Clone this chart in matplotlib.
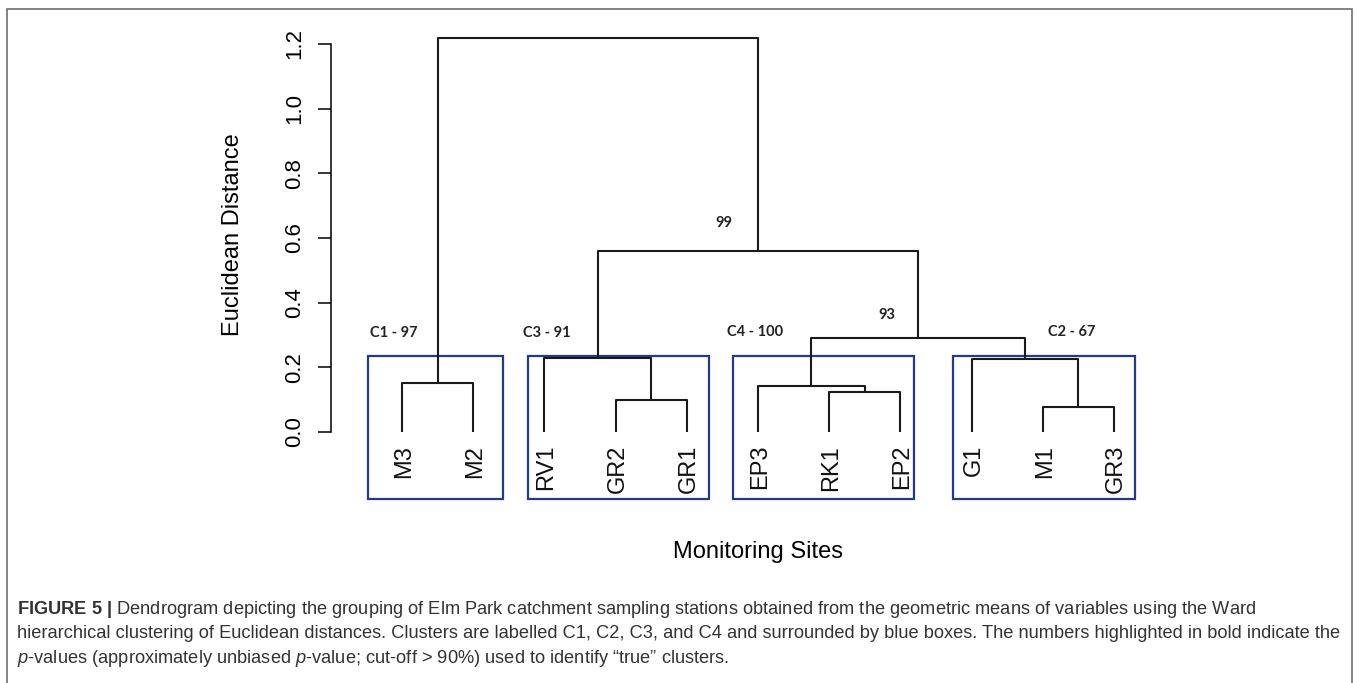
import matplotlib
matplotlib.use("Agg")
import matplotlib.pyplot as plt
import matplotlib.patches as mpatches
from matplotlib import font_manager

# Leaves in plotting order and the merge table (R style: -k = leaf k, +k = merge k).
leaves = ["M3", "M2", "RV1", "GR2", "GR1", "EP3", "RK1", "EP2", "G1", "M1", "GR3"]
merge_left = [-10, -4, -7, -6, -1, -3, -9, 4, 6, 5]
merge_right = [-11, -5, -8, 3, -2, 2, 1, 7, 8, 9]
merge_height = [0.077, 0.099, 0.124, 0.142, 0.150, 0.228, 0.227, 0.291, 0.560, 1.218]

y_ticks = [0.0, 0.2, 0.4, 0.6, 0.8, 1.0, 1.2]
y_tick_labels = ["0.0", "0.2", "0.4", "0.6", "0.8", "1.0", "1.2"]

cluster_labels = ["C1 - 97", "C3 - 91", "C4 - 100", "C2 - 67", "99", "93"]
cluster_members = [["M3", "M2"], ["RV1", "GR2", "GR1"], ["EP3", "RK1", "EP2"], ["G1", "M1", "GR3"]]

caption_lines = [
    r"$\mathbf{FIGURE\ 5\ |}$ Dendrogram depicting the grouping of Elm Park catchment sampling stations obtained from the geometric means of variables using the Ward",
    "hierarchical clustering of Euclidean distances. Clusters are labelled C1, C2, C3, and C4 and surrounded by blue boxes. The numbers highlighted in bold indicate the",
    r"$\mathit{p}$-values (approximately unbiased $\mathit{p}$-value; cut-off > 90%) used to identify " + "\u201ctrue\u201d clusters.",
]

# Fonts
names = {f.name for f in font_manager.fontManager.ttflist}
narrow = "Liberation Sans Narrow" if "Liberation Sans Narrow" in names else "Liberation Sans"
plt.rcParams["font.family"] = ["Liberation Sans", "DejaVu Sans"]
plt.rcParams["mathtext.fontset"] = "custom"
plt.rcParams["mathtext.rm"] = narrow
plt.rcParams["mathtext.it"] = narrow + ":italic"
plt.rcParams["mathtext.bf"] = "Liberation Sans:bold"

W, H = 1357, 683
fig = plt.figure(figsize=(W / 100, H / 100), dpi=100)

# Axes laid out in pixel terms: leaves at 402 + 71.2*i, y=0 at 432, 323.5 px per unit.
ax_left, ax_right, ax_top, ax_bottom = 331, 1200, 30, 520
ax = fig.add_axes([ax_left / W, 1 - ax_bottom / H, (ax_right - ax_left) / W, (ax_bottom - ax_top) / H])
ax.set_xlim((ax_left - 402) / 71.2, (ax_right - 402) / 71.2)
ax.set_ylim((432 - ax_bottom) / 323.5, (432 - ax_top) / 323.5)

# Dendrogram
line_kw = dict(color="#1a1a1a", lw=1.5, solid_capstyle="butt", clip_on=False)
node_x = []
for i in range(len(merge_height)):
    xs, hs = [], []
    for c in (merge_left[i], merge_right[i]):
        if c < 0:
            xs.append(-c - 1)
            hs.append(0.0)
        else:
            xs.append(node_x[c - 1])
            hs.append(merge_height[c - 1])
    h = merge_height[i]
    ax.plot([xs[0], xs[0], xs[1], xs[1]], [hs[0], h, h, hs[1]], **line_kw)
    node_x.append(sum(xs) / 2)

# Leaf labels
for i, name in enumerate(leaves):
    ax.text(i + 0.03, -0.04, name, rotation=90, ha="center", va="top", fontsize=17, color="#111111")

# Blue cluster boxes
box_pad = [(0.478, 0.419), (0.23, 0.31), (0.35, 0.19), (0.26, 0.29)]
for members, (pl, pr) in zip(cluster_members, box_pad):
    idx = [leaves.index(m) for m in members]
    x0, x1 = min(idx) - pl, max(idx) + pr
    ax.add_patch(mpatches.Rectangle((x0, -0.208), x1 - x0, 0.443, fill=False,
                                    edgecolor="#213a8a", lw=1.6, clip_on=False))

# Bold p-value labels
label_pos = [(-0.449, 0.306), (1.70, 0.306), (4.56, 0.309), (9.07, 0.309), (4.40, 0.646), (6.69, 0.362)]
for text, (lx, ly) in zip(cluster_labels, label_pos):
    ax.text(lx, ly, text, ha="left", va="center", fontsize=10.5, fontweight="bold",
            family=["Lato", "DejaVu Sans"], color="#222222")

# Axis styling (R-like)
for s in ["top", "right", "bottom"]:
    ax.spines[s].set_visible(False)
ax.spines["left"].set_bounds(0, 1.2)
ax.spines["left"].set_linewidth(1.1)
ax.set_xticks([])
ax.set_yticks(y_ticks)
ax.set_yticklabels(y_tick_labels, rotation=90, va="center", fontsize=16)
ax.tick_params(axis="y", length=9.4, width=1.1, pad=9)

fig.text(233 / W, 1 - 235 / H, "Euclidean Distance", rotation=90, ha="center", va="center", fontsize=17)
fig.text(758 / W, 1 - 552 / H, "Monitoring Sites", ha="center", va="center", fontsize=17)

# Caption
caps = []
for line, base in zip(caption_lines, [614, 638, 663]):
    caps.append(fig.text(17 / W, 1 - base / H, line, ha="left", va="baseline", fontsize=13.5,
                         family=[narrow, "DejaVu Sans"], color="#333333"))
fig.canvas.draw()
r = fig.canvas.get_renderer()
scale = 1321 / caps[1].get_window_extent(r).width
for c in caps:
    c.set_fontsize(13.5 * scale)

# Outer frame
fig.add_artist(mpatches.Rectangle((7 / W, -0.05), (1352 - 7) / W, 1.05 - 9 / H, transform=fig.transFigure,
                                  fill=False, edgecolor="#707070", lw=1.2))

fig.savefig("out.png", dpi=100)
